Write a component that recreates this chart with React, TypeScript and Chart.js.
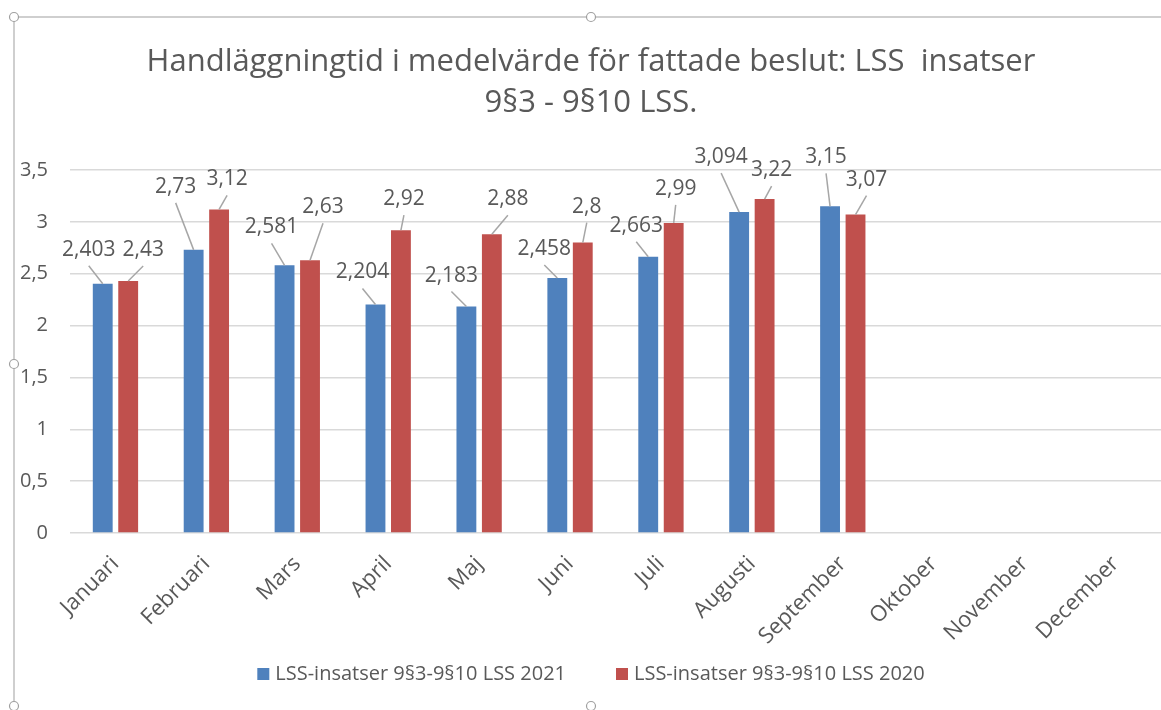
import React, { useEffect, useRef } from "react";
import { Chart, registerables } from "chart.js";

Chart.register(...registerables);

const months = [
  "Januari", "Februari", "Mars", "April", "Maj", "Juni",
  "Juli", "Augusti", "September", "Oktober", "November", "December",
];
const values2021 = [2.403, 2.73, 2.581, 2.204, 2.183, 2.458, 2.663, 3.094, 3.15, null, null, null];
const values2020 = [2.43, 3.12, 2.63, 2.92, 2.88, 2.8, 2.99, 3.22, 3.07, null, null, null];
const seriesNames = ["LSS-insatser 9§3-9§10 LSS 2021", "LSS-insatser 9§3-9§10 LSS 2020"];
const titleLines = ["Handläggningtid i medelvärde för fattade beslut: LSS  insatser", "9§3 - 9§10 LSS."];
const yMax = 3.5;
const yStep = 0.5;

// label placement (offsets from bar top, in px) – styling only
const labelOffsets2021 = [[-14, -34], [-18, -63], [-13, -38], [-13, -32], [-15, -31], [-13, -29], [-12, -31], [-18, -55], [-4, -49]];
const labelOffsets2020 = [[15, -31], [8, -30], [13, -53], [3, -31], [16, -35], [4, -36], [2, -34], [7, -29], [11, -35]];

const BLUE = "#4f81bd";
const RED = "#c0504d";
const TEXT = "#595959";
const FONT = "'Open Sans', sans-serif";

const fmt = (v: number) => String(v).replace(".", ",");

const decorPlugin = {
  id: "decor",
  beforeDraw(chart: any) {
    const ctx = chart.ctx;
    ctx.save();
    ctx.fillStyle = "#ffffff";
    ctx.fillRect(0, 0, chart.width, chart.height);
    ctx.strokeStyle = "#c0c0c0";
    ctx.lineWidth = 1.5;
    ctx.beginPath();
    ctx.moveTo(14, 17);
    ctx.lineTo(chart.width, 17);
    ctx.moveTo(14, 17);
    ctx.lineTo(14, chart.height);
    ctx.stroke();
    ctx.restore();
  },
  afterDraw(chart: any) {
    const ctx = chart.ctx;
    ctx.save();
    // title
    ctx.fillStyle = TEXT;
    ctx.font = `31px ${FONT}`;
    ctx.textAlign = "center";
    ctx.textBaseline = "middle";
    const cx = 591;
    const w0 = ctx.measureText(titleLines[0]).width;
    const sx = Math.min(1, 889 / w0);
    [62, 103].forEach((y, i) => {
      ctx.save();
      ctx.translate(cx, y);
      ctx.scale(sx, 1);
      ctx.fillText(titleLines[i], 0, 0);
      ctx.restore();
    });
    // legend
    ctx.font = `20px ${FONT}`;
    ctx.textAlign = "left";
    const box = 12, gapBox = 6, gapItem = 50;
    const widths = seriesNames.map((n) => box + gapBox + ctx.measureText(n).width);
    const total = widths[0] + widths[1] + gapItem;
    let x = cx - total / 2;
    const ly = 674;
    [BLUE, RED].forEach((c, i) => {
      ctx.fillStyle = c;
      ctx.fillRect(x, ly - box / 2, box, box);
      ctx.fillStyle = TEXT;
      ctx.fillText(seriesNames[i], x + box + gapBox, ly);
      x += widths[i] + gapItem;
    });
    // selection handles
    ctx.strokeStyle = "#a0a0a0";
    ctx.fillStyle = "#ffffff";
    ctx.lineWidth = 1.2;
    [[14, 17], [591, 17], [14, 364], [14, 706], [591, 706]].forEach(([hx, hy]) => {
      ctx.beginPath();
      ctx.arc(hx, hy, 4.5, 0, Math.PI * 2);
      ctx.fill();
      ctx.stroke();
    });
    ctx.restore();
  },
  afterDatasetsDraw(chart: any) {
    const ctx = chart.ctx;
    ctx.save();
    ctx.font = `21px ${FONT}`;
    ctx.textAlign = "center";
    ctx.textBaseline = "middle";
    const offsets = [labelOffsets2021, labelOffsets2020];
    chart.data.datasets.forEach((ds: any, di: number) => {
      const meta = chart.getDatasetMeta(di);
      meta.data.forEach((el: any, i: number) => {
        const v = ds.data[i];
        if (v === null || v === undefined) return;
        const off = offsets[di][i] || [0, -25];
        const lx = el.x + off[0];
        const ly = el.y + off[1];
        const startY = ly + 16;
        if (startY < el.y - 2) {
          ctx.strokeStyle = "#a6a6a6";
          ctx.lineWidth = 1.5;
          ctx.beginPath();
          ctx.moveTo(lx, startY);
          ctx.lineTo(el.x, el.y);
          ctx.stroke();
        }
        ctx.fillStyle = TEXT;
        ctx.fillText(fmt(v), lx, ly);
      });
    });
    ctx.restore();
  },
};

export default function App() {
  const ref = useRef<HTMLCanvasElement | null>(null);
  useEffect(() => {
    if (!ref.current) return;
    const chart = new Chart(ref.current, {
      type: "bar",
      data: {
        labels: months,
        datasets: [
          { label: seriesNames[0], data: values2021, backgroundColor: BLUE, categoryPercentage: 0.56, barPercentage: 0.78 },
          { label: seriesNames[1], data: values2020, backgroundColor: RED, categoryPercentage: 0.56, barPercentage: 0.78 },
        ],
      },
      options: {
        responsive: false,
        animation: false,
        layout: { padding: { top: 170, left: 0, right: 0, bottom: 0 } },
        plugins: { legend: { display: false }, title: { display: false }, tooltip: { enabled: false } },
        scales: {
          x: {
            grid: { display: false },
            border: { display: false },
            ticks: {
              color: TEXT,
              font: { family: FONT, size: 22 },
              maxRotation: 45,
              minRotation: 45,
              padding: 10,
              autoSkip: false,
            },
            afterFit: (s: any) => {
              s.height = 177;
              s.paddingRight = 0;
              s.paddingLeft = 0;
            },
          },
          y: {
            min: 0,
            max: yMax,
            grid: { color: "#d9d9d9", lineWidth: 1.5, drawTicks: false },
            border: { display: false },
            ticks: {
              stepSize: yStep,
              color: TEXT,
              font: { family: FONT, size: 20 },
              padding: 22,
              callback: (v: any) => fmt(Number(v)),
            },
            afterFit: (s: any) => {
              s.width = 70;
            },
          },
        },
      },
      plugins: [decorPlugin],
    });
    return () => chart.destroy();
  }, []);
  return (
    <div style={{ position: "fixed", left: 0, top: 0, width: 1161, height: 710, background: "#fff" }}>
      <canvas ref={ref} width={1161} height={710} style={{ display: "block" }} />
    </div>
  );
}
